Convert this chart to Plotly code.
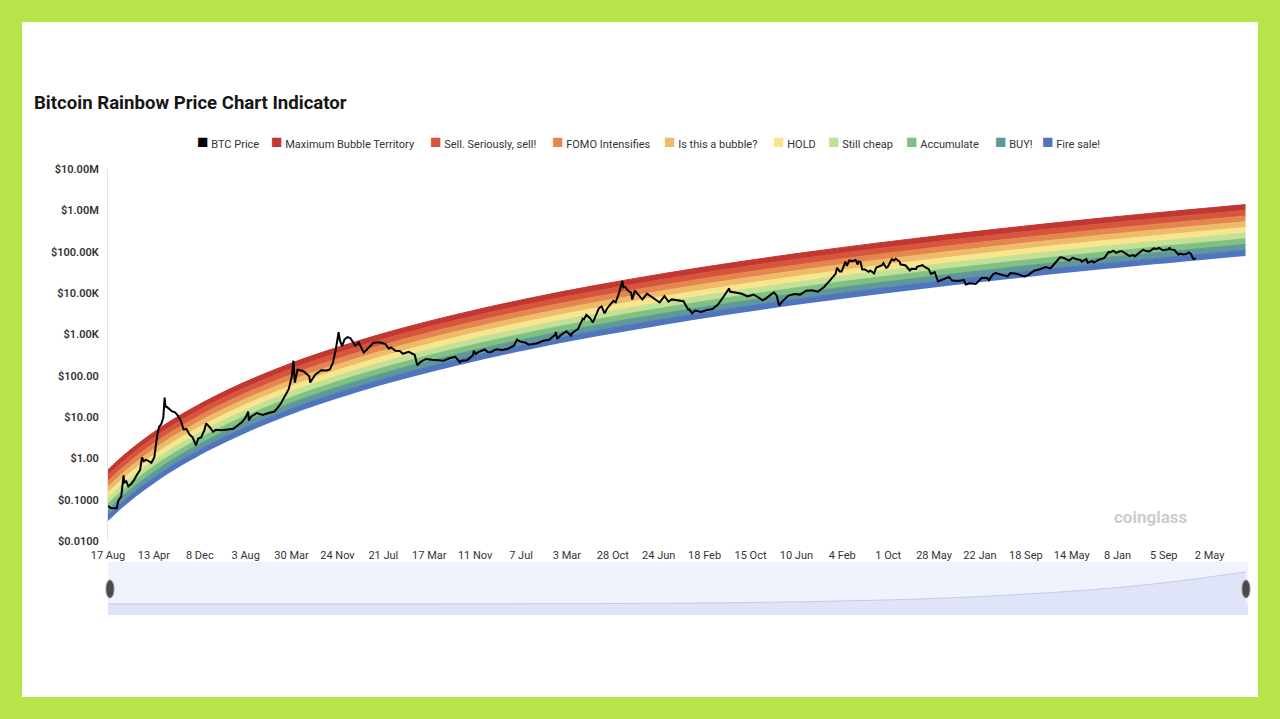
import plotly.graph_objects as go

# ---------------- data ----------------
title_text = "Bitcoin Rainbow Price Chart Indicator"

price_dates = [
    "2010-08-17", "2010-09-01", "2010-09-15", "2010-10-01", "2010-10-10", "2010-10-25", "2010-11-06", "2010-11-10", "2010-11-20", "2010-12-01", "2010-12-15", "2010-12-31",
    "2011-01-15", "2011-01-31", "2011-02-10", "2011-02-20", "2011-03-01", "2011-03-15", "2011-03-31", "2011-04-15", "2011-04-30", "2011-05-10", "2011-05-20", "2011-06-01", "2011-06-08", "2011-06-12", "2011-06-20", "2011-07-01", "2011-07-15", "2011-08-01", "2011-08-15", "2011-08-31", "2011-09-15", "2011-09-30", "2011-10-15", "2011-10-31", "2011-11-18", "2011-11-30", "2011-12-15", "2011-12-31",
    "2012-01-10", "2012-01-31", "2012-02-15", "2012-03-01", "2012-03-31", "2012-04-30", "2012-05-31", "2012-06-30", "2012-07-15", "2012-07-31", "2012-08-16", "2012-08-19", "2012-08-31", "2012-09-30", "2012-10-31", "2012-11-30", "2012-12-31",
    "2013-01-31", "2013-02-28", "2013-03-15", "2013-03-31", "2013-04-09", "2013-04-16", "2013-04-30", "2013-05-31", "2013-06-30", "2013-07-05", "2013-07-31", "2013-08-31", "2013-09-30", "2013-10-15", "2013-10-31", "2013-11-15", "2013-11-30", "2013-12-07", "2013-12-18", "2013-12-31",
    "2014-01-15", "2014-01-31", "2014-02-25", "2014-03-15", "2014-03-31", "2014-04-10", "2014-04-30", "2014-05-31", "2014-06-30", "2014-07-31", "2014-08-18", "2014-08-31", "2014-09-22", "2014-10-15", "2014-10-31", "2014-11-30", "2014-12-31",
    "2015-01-14", "2015-01-31", "2015-02-28", "2015-03-31", "2015-04-30", "2015-05-31", "2015-06-30", "2015-07-31", "2015-08-24", "2015-08-31", "2015-09-30", "2015-10-31", "2015-11-04", "2015-11-15", "2015-11-30", "2015-12-31",
    "2016-01-15", "2016-01-31", "2016-02-29", "2016-03-31", "2016-04-30", "2016-05-31", "2016-06-17", "2016-06-30", "2016-07-31", "2016-08-15", "2016-08-31", "2016-09-30", "2016-10-31", "2016-11-30", "2016-12-31",
    "2017-01-04", "2017-01-11", "2017-01-31", "2017-02-28", "2017-03-24", "2017-03-31", "2017-04-30", "2017-05-25", "2017-05-31", "2017-06-12", "2017-06-30", "2017-07-16", "2017-07-31", "2017-08-17", "2017-08-31", "2017-09-15", "2017-09-30", "2017-10-31", "2017-11-12", "2017-11-30", "2017-12-17", "2017-12-22", "2017-12-31",
    "2018-01-16", "2018-01-31", "2018-02-06", "2018-02-20", "2018-02-28", "2018-03-31", "2018-04-24", "2018-04-30", "2018-05-31", "2018-06-29", "2018-07-24", "2018-07-31", "2018-08-14", "2018-08-31", "2018-09-30", "2018-10-31", "2018-11-25", "2018-11-30", "2018-12-15", "2018-12-31",
    "2019-01-31", "2019-02-28", "2019-03-31", "2019-04-30", "2019-05-31", "2019-06-26", "2019-06-30", "2019-07-31", "2019-08-31", "2019-09-30", "2019-10-26", "2019-10-31", "2019-11-30", "2019-12-17", "2019-12-31",
    "2020-01-31", "2020-02-14", "2020-02-29", "2020-03-12", "2020-03-31", "2020-04-30", "2020-05-31", "2020-06-30", "2020-07-31", "2020-08-31", "2020-09-30", "2020-10-31", "2020-11-30", "2020-12-31",
    "2021-01-08", "2021-01-22", "2021-01-31", "2021-02-21", "2021-02-28", "2021-03-13", "2021-03-31", "2021-04-14", "2021-04-25", "2021-04-30", "2021-05-10", "2021-05-19", "2021-05-31", "2021-06-22", "2021-06-30", "2021-07-20", "2021-07-31", "2021-08-31", "2021-09-06", "2021-09-21", "2021-09-30", "2021-10-20", "2021-10-31", "2021-11-10", "2021-11-30", "2021-12-04", "2021-12-31",
    "2022-01-22", "2022-01-31", "2022-02-24", "2022-02-28", "2022-03-29", "2022-03-31", "2022-04-30", "2022-05-12", "2022-05-31", "2022-06-18", "2022-06-30", "2022-07-31", "2022-08-14", "2022-08-31", "2022-09-30", "2022-10-31", "2022-11-09", "2022-11-30", "2022-12-31",
    "2023-01-31", "2023-02-28", "2023-03-10", "2023-03-31", "2023-04-14", "2023-04-30", "2023-05-31", "2023-06-15", "2023-06-30", "2023-07-31", "2023-08-31", "2023-09-11", "2023-09-30", "2023-10-31", "2023-11-30", "2023-12-31",
    "2024-01-23", "2024-01-31", "2024-02-29", "2024-03-14", "2024-03-31", "2024-04-30", "2024-05-20", "2024-05-31", "2024-06-30", "2024-07-05", "2024-07-29", "2024-08-05", "2024-08-31", "2024-09-06", "2024-09-30", "2024-10-29", "2024-10-31", "2024-11-22", "2024-11-30", "2024-12-17", "2024-12-31",
    "2025-01-20", "2025-01-31", "2025-02-28", "2025-03-10", "2025-03-31", "2025-04-08", "2025-04-30", "2025-05-22", "2025-05-31", "2025-06-22", "2025-06-30", "2025-07-14", "2025-07-31", "2025-08-13", "2025-08-31", "2025-09-30", "2025-10-06", "2025-10-10", "2025-10-31", "2025-11-21", "2025-11-30", "2025-12-15", "2025-12-31",
    "2026-01-14", "2026-01-25", "2026-02-01", "2026-02-06", "2026-02-10", "2026-02-20",
]
price_values = [
    0.07, 0.063, 0.062, 0.062, 0.095, 0.12, 0.39, 0.26, 0.28, 0.21, 0.24, 0.30,
    0.40, 0.52, 1.05, 0.85, 0.92, 0.87, 0.78, 1.05, 3.5, 5.8, 6.5, 9.6, 29.6, 18, 17.5, 16, 13.8, 13, 11, 8.2, 5.0, 5.1, 3.8, 3.25, 2.05, 3.0, 3.2, 4.7,
    7.0, 5.5, 4.4, 4.9, 4.8, 5.0, 5.2, 6.7, 7.6, 9.2, 13.5, 8.2, 10.2, 12.4, 11.2, 12.5, 13.5,
    20.4, 33.4, 47, 93, 230, 68, 139, 128, 97, 68, 106, 135, 133, 142, 204, 420, 1130, 700, 520, 754,
    860, 805, 530, 630, 455, 360, 447, 630, 640, 586, 450, 480, 400, 395, 338, 378, 320,
    178, 217, 254, 244, 236, 230, 263, 285, 210, 230, 236, 314, 403, 332, 377, 430,
    375, 370, 437, 416, 448, 531, 752, 674, 625, 570, 575, 610, 700, 740, 964,
    1135, 780, 965, 1190, 935, 1080, 1350, 2400, 2300, 2950, 2480, 1930, 2875, 4300, 4740, 3230, 4340, 6470, 5950, 10200, 19500, 13800, 14150,
    11300, 10200, 6950, 11400, 10400, 6950, 9650, 9250, 7500, 5900, 8400, 7730, 6200, 7000, 6630, 6330, 3950, 4040, 3230, 3740,
    3460, 3850, 4105, 5350, 8570, 12900, 10820, 10080, 9600, 8290, 9250, 9200, 7570, 6640, 7190,
    9350, 10300, 8600, 4950, 6420, 8650, 9460, 9140, 11350, 11680, 10780, 13800, 19700, 29000,
    40600, 33000, 33100, 57500, 45200, 61200, 58800, 63500, 49000, 57700, 56000, 37000, 37300, 32500, 35000, 29800, 41500, 47100, 52700, 40700, 43800, 66000, 61300, 67500, 57000, 49400, 46300,
    35100, 38500, 38300, 43200, 47400, 45500, 37700, 28900, 31800, 19000, 19900, 23300, 24400, 20000, 19400, 20500, 16000, 17200, 16500,
    23100, 23100, 20200, 28500, 30400, 29200, 27200, 25100, 30500, 29200, 26000, 25100, 27000, 34600, 37700, 42300,
    39500, 42600, 61200, 73100, 71300, 60600, 71400, 67500, 62700, 56700, 66800, 54000, 58900, 53900, 63300, 72700, 70200, 98500, 96400, 106000, 93400,
    102000, 102400, 84400, 78600, 82500, 76300, 94200, 111700, 104600, 101000, 107100, 119800, 115800, 123300, 108200, 114000, 124700, 113200, 109500, 84600, 90400, 86000, 87500,
    96000, 88000, 77000, 65000, 69000, 67000,
]

# lower edge of the rainbow ("Fire sale!" floor)
band_dates = [
    "2010-08-17", "2010-09-15", "2010-11-01", "2011-02-01", "2011-05-01", "2011-08-01", "2012-02-01",
    "2012-08-01", "2013-02-01", "2013-08-01", "2014-08-01", "2015-08-01", "2016-08-01", "2017-08-01",
    "2018-08-01", "2019-08-01", "2020-08-01", "2021-08-01", "2022-08-01", "2023-08-01", "2024-08-01",
    "2025-08-01", "2026-11-05",
]
band_floor = [
    0.0305, 0.041, 0.0646, 0.143, 0.284, 0.537, 1.61,
    4.07, 9.16, 18.6, 62.5, 172, 412, 881,
    1734, 3184, 5559, 9226, 14760, 22800, 34360,
    50230, 79000,
]
# bands from bottom to top; upper edge of each band as a multiple of the floor
band_names = ["Fire sale!", "BUY!", "Accumulate", "Still cheap", "HOLD",
              "Is this a bubble?", "FOMO Intensifies", "Sell. Seriously, sell!", "Maximum Bubble Territory"]
band_upper_vs_floor = [1.37, 1.89, 2.59, 3.56, 4.89, 6.72, 9.23, 12.7, 17.4]
band_colors = ["#5075bf", "#5f979a", "#7fc180", "#c2e096", "#f7e68e",
               "#efbb6b", "#e4864d", "#d5553d", "#c23731"]

ytick_vals = [0.01, 0.1, 1, 10, 100, 1e3, 1e4, 1e5, 1e6, 1e7]
ytick_text = ["$0.0100", "$0.1000", "$1.00", "$10.00", "$100.00",
              "$1.00K", "$10.00K", "$100.00K", "$1.00M", "$10.00M"]

xtick_dates = ["2010-08-17", "2011-04-13", "2011-12-08", "2012-08-03", "2013-03-30", "2013-11-24",
               "2014-07-21", "2015-03-17", "2015-11-11", "2016-07-07", "2017-03-03", "2017-10-28",
               "2018-06-24", "2019-02-18", "2019-10-15", "2020-06-10", "2021-02-04", "2021-10-01",
               "2022-05-28", "2023-01-22", "2023-09-18", "2024-05-14", "2025-01-08", "2025-09-05",
               "2026-05-02"]

x_start, x_end = "2010-08-17", "2026-11-18"

# ---------------- figure ----------------
FONT = "Roboto, 'Noto Sans', sans-serif"
W, H = 1280, 719
L, R, T, B = 108, 32, 169, 104
pw, ph = W - L - R, H - T - B


def px(xp):
    return (xp - L) / pw


def py(yp):
    return (H - B - yp) / ph


fig = go.Figure()

# rainbow bands
fig.add_trace(go.Scatter(x=band_dates, y=band_floor, mode="lines",
                         line=dict(width=0, shape="spline", color=band_colors[0]),
                         showlegend=False, hoverinfo="skip"))
band_edges = []
for i, name in enumerate(band_names):
    upper = [f * band_upper_vs_floor[i] for f in band_floor]
    band_edges.append(upper)
    fig.add_trace(go.Scatter(x=band_dates, y=upper, mode="lines", name=name, legendgroup=name,
                             line=dict(width=1, shape="spline", color=band_colors[i]),
                             fill="tonexty", fillcolor=band_colors[i], showlegend=False,
                             hovertemplate=name + ": %{y:$,.2f}<extra></extra>"))

# BTC price
fig.add_trace(go.Scatter(x=price_dates, y=price_values, mode="lines", name="BTC Price",
                         legendgroup="BTC Price", line=dict(color="#000000", width=2),
                         showlegend=False))

# legend: one small legend per entry so each sits where the reference puts it
legend_items = [("BTC Price", "#000000")] + [(band_names[i], band_colors[i]) for i in range(8, -1, -1)]
legend_square_left = [197, 271, 430, 552, 664, 773, 828, 906, 995, 1042]
legend_layouts = {}
for k, (name, color) in enumerate(legend_items):
    lid = "legend" if k == 0 else "legend%d" % (k + 1)
    label = '<span style="color:%s;font-size:19px">■</span>\u00a0%s' % (color, name)
    fig.add_trace(go.Scatter(x=[None], y=[None], mode="markers", name=label, legend=lid,
                             legendgroup=name, marker=dict(color="rgba(0,0,0,0)", size=1),
                             showlegend=True))
    legend_layouts[lid] = dict(xref="paper", yref="paper", x=px(legend_square_left[k] - 40),
                               xanchor="left", y=py(144), yanchor="middle",
                               orientation="h", bgcolor="rgba(0,0,0,0)", borderwidth=0,
                               itemwidth=30,
                               font=dict(family=FONT, size=11, color="#333333"))

# data-zoom thumbnail
fig.add_trace(go.Scatter(x=band_dates, y=band_edges[-1], xaxis="x2", yaxis="y2", mode="lines",
                         line=dict(color="#c3cbee", width=1, shape="spline"),
                         fill="tozeroy", fillcolor="#dfe4f8", showlegend=False, hoverinfo="skip"))

top_max = max(band_edges[-1])

fig.update_layout(
    width=W, height=H,
    margin=dict(l=L, r=R, t=T, b=B, pad=0),
    paper_bgcolor="#b7e34b",
    plot_bgcolor="rgba(0,0,0,0)",
    font=dict(family=FONT, size=11, color="#333333"),
    title=dict(text=title_text, xref="container", yref="container",
               x=34 / W, xanchor="left", y=1 - 102 / H, yanchor="middle",
               font=dict(family=FONT, size=18.6, color="#161616", weight="bold")),
    xaxis=dict(type="date", range=[x_start, x_end], domain=[0, 1], anchor="y",
               tickvals=xtick_dates, tickformat="%-d %b",
               showgrid=False, zeroline=False, showline=False, ticks="",
               ticklabelstandoff=6, tickfont=dict(size=11, color="#333333")),
    yaxis=dict(type="log", range=[-2, 7], domain=[py(541), 1], anchor="x",
               tickvals=ytick_vals, ticktext=ytick_text, showgrid=False, zeroline=False,
               showline=True, linecolor="#e3e3e3", linewidth=1, ticks="",
               ticklabelstandoff=6, tickfont=dict(size=11, color="#333333", weight=600)),
    xaxis2=dict(matches="x", domain=[0, 1], anchor="y2", visible=False),
    yaxis2=dict(domain=[0, py(562)], anchor="x2", range=[-0.344 * top_max, 1.31 * top_max],
                visible=False, fixedrange=True),
    hovermode="x unified",
    shapes=[
        # white card
        dict(type="rect", xref="paper", yref="paper", x0=px(22), x1=px(1258), y0=py(697), y1=py(22),
             fillcolor="#ffffff", line=dict(width=0), layer="below"),
        # slider background
        dict(type="rect", xref="x2 domain", yref="y2 domain", x0=0, x1=1, y0=0, y1=1,
             fillcolor="#f0f2fc", line=dict(width=0), layer="below"),
        dict(type="rect", xref="x2 domain", yref="y2", ysizemode="pixel", yanchor=0,
             x0=0, x1=1, y0=-12, y1=0, fillcolor="#dfe4f8", line=dict(width=0), layer="below"),
        # slider handles
        dict(type="circle", xref="paper", yref="paper", xsizemode="pixel", ysizemode="pixel",
             xanchor=px(110), yanchor=py(589), x0=-4, x1=4, y0=-9, y1=9,
             fillcolor="#4a4a4a", line=dict(color="#8a8a8a", width=1)),
        dict(type="circle", xref="paper", yref="paper", xsizemode="pixel", ysizemode="pixel",
             xanchor=px(1246), yanchor=py(589), x0=-4, x1=4, y0=-9, y1=9,
             fillcolor="#4a4a4a", line=dict(color="#8a8a8a", width=1)),
    ],
    annotations=[
        dict(text="coinglass", xref="paper", yref="paper", x=px(1190), y=py(517),
             xanchor="right", yanchor="middle", showarrow=False,
             font=dict(family=FONT, size=17, color="#cdcdcd", weight="bold")),
    ],
)
fig.update_layout(**legend_layouts)

fig.write_html("out.html", config={"displayModeBar": False},
               post_script="document.body.style.margin='0px';document.body.style.overflow='hidden';")
